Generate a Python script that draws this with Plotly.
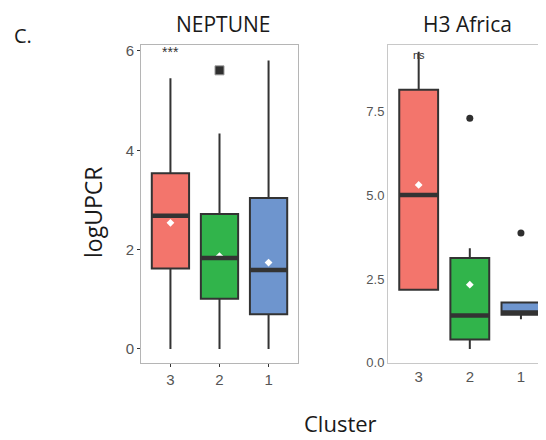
import plotly.graph_objects as go

# ---------------- data ----------------
categories = ["3", "2", "1"]
colors = ["#F3756C", "#31B44B", "#6E95CE"]

nep_q1 = [1.62, 1.01, 0.70]
nep_median = [2.68, 1.83, 1.59]
nep_q3 = [3.54, 2.72, 3.04]
nep_lower = [0.0, 0.0, 0.0]
nep_upper = [5.45, 4.34, 5.81]
nep_mean = [2.54, 1.87, 1.74]
nep_outliers = [[], [5.61], []]
nep_sig = "***"
nep_sig_y = 5.98
nep_yticks = [0, 2, 4, 6]

h3_q1 = [2.18, 0.69, 1.43]
h3_median = [5.01, 1.41, 1.50]
h3_q3 = [8.15, 3.13, 1.80]
h3_lower = [2.18, 0.41, 1.30]
h3_upper = [9.29, 3.42, 1.80]
h3_mean = [5.31, 2.33, None]
h3_outliers = [[], [7.30], [3.87]]
h3_sig = "ns"
h3_sig_y = 9.2
h3_yticks = [0.0, 2.5, 5.0, 7.5]

# page body has an 8px margin: size figure to fit the window
OFF = 8
W, H = 546 - OFF, 440 - OFF


def px(x):
    return (x - OFF) / W


def py(y):
    return 1 - (y - OFF) / H


BOXW = 0.76
LINE = "#333333"

fig = go.Figure()


def add_panel(xa, ya, q1, med, q3, lo, up, mean, outl, outsym, outsize):
    for i, cat in enumerate(categories):
        fig.add_trace(go.Box(
            x=[i], q1=[q1[i]], median=[med[i]], q3=[q3[i]],
            lowerfence=[lo[i]], upperfence=[up[i]],
            fillcolor=colors[i], line=dict(color=LINE, width=2),
            width=BOXW, whiskerwidth=0, boxpoints=False,
            xaxis=xa, yaxis=ya, showlegend=False, hoverinfo="skip"))
        # thick median line
        fig.add_shape(type="line", xref=xa, yref=ya,
                      x0=i - BOXW / 2, x1=i + BOXW / 2, y0=med[i], y1=med[i],
                      line=dict(color=LINE, width=4.5))
        if outl[i]:
            fig.add_trace(go.Scatter(
                x=[i] * len(outl[i]), y=outl[i], mode="markers",
                marker=dict(symbol=outsym, size=outsize, color="#2f2f2f",
                            line=dict(color="#999999", width=1 if outsym == "square" else 0)),
                xaxis=xa, yaxis=ya, showlegend=False, hoverinfo="skip"))
        if mean[i] is not None:
            fig.add_trace(go.Scatter(
                x=[i], y=[mean[i]], mode="markers",
                marker=dict(symbol="diamond", size=6, color="white"),
                xaxis=xa, yaxis=ya, showlegend=False, hoverinfo="skip"))


add_panel("x", "y", nep_q1, nep_median, nep_q3, nep_lower, nep_upper,
          nep_mean, nep_outliers, "square", 9)
add_panel("x2", "y2", h3_q1, h3_median, h3_q3, h3_lower, h3_upper,
          h3_mean, h3_outliers, "circle", 7)

tickfont = dict(family="Liberation Sans, Arial, sans-serif", color="#555555")

fig.update_layout(
    template="none",
    width=W, height=H, margin=dict(l=0, r=0, t=0, b=0, pad=0, autoexpand=False),
    paper_bgcolor="white", plot_bgcolor="white",
    xaxis=dict(domain=[px(141), px(298)], range=[-0.6, 2.6], automargin=False,
               tickmode="array", tickvals=[0, 1, 2], ticktext=categories,
               showline=True, linecolor="#b5b5b5", linewidth=1, mirror=True,
               showgrid=False, zeroline=False, ticks="outside", ticklen=3,
               tickcolor="#333333", tickfont=dict(size=15, **tickfont)),
    yaxis=dict(domain=[py(363), py(45)], range=[-0.282, 6.12], automargin=False,
               tickmode="array", tickvals=nep_yticks,
               showline=True, linecolor="#b5b5b5", linewidth=1, mirror=True,
               showgrid=False, zeroline=False, ticks="outside", ticklen=3,
               tickcolor="#333333", tickfont=dict(size=15, **tickfont)),
    xaxis2=dict(domain=[px(388), 1.0], range=[-0.6, 2.49], anchor="y2", automargin=False,
                tickmode="array", tickvals=[0, 1, 2], ticktext=categories,
                showline=True, linecolor="#c8c8c8", linewidth=1, mirror=True,
                showgrid=False, zeroline=False, ticks="",
                tickfont=dict(size=15, **tickfont)),
    yaxis2=dict(domain=[py(363), py(45)], range=[-0.01, 9.49], automargin=False,
                anchor="x2", tickmode="array", tickvals=h3_yticks,
                tickformat=".1f",
                showline=True, linecolor="#c8c8c8", linewidth=1,
                showgrid=False, zeroline=False, ticks="",
                tickfont=dict(size=13, **tickfont)),
)

title_font = dict(family="Open Sans, sans-serif", size=21, color="#1a1a1a")


def label(text, x, y, size, angle=0, yanchor="middle"):
    fig.add_annotation(text=text, x=px(x), y=py(y), xref="paper", yref="paper",
                       xanchor="center", yanchor=yanchor, textangle=angle,
                       showarrow=False,
                       font=dict(family="Open Sans, sans-serif", size=size, color="#1a1a1a"))


label("NEPTUNE", 223, 24, 21)
label("H3 Africa", 467, 24, 21)
label("C.", 23, 36, 20)
label("logUPCR", 93, 213, 23, angle=-90)
label("Cluster", 340, 440, 22, yanchor="bottom")

# significance labels
fig.add_annotation(text=nep_sig, x=0, y=nep_sig_y, xref="x", yref="y",
                   xanchor="center", yanchor="middle", showarrow=False,
                   font=dict(family="Liberation Sans, Arial", size=14, color="#333333"))
fig.add_annotation(text=h3_sig, x=0, y=h3_sig_y, xref="x2", yref="y2",
                   xanchor="center", yanchor="middle", showarrow=False,
                   font=dict(family="Liberation Sans, Arial", size=11, color="#333333"))

fig.write_html("out.html")
